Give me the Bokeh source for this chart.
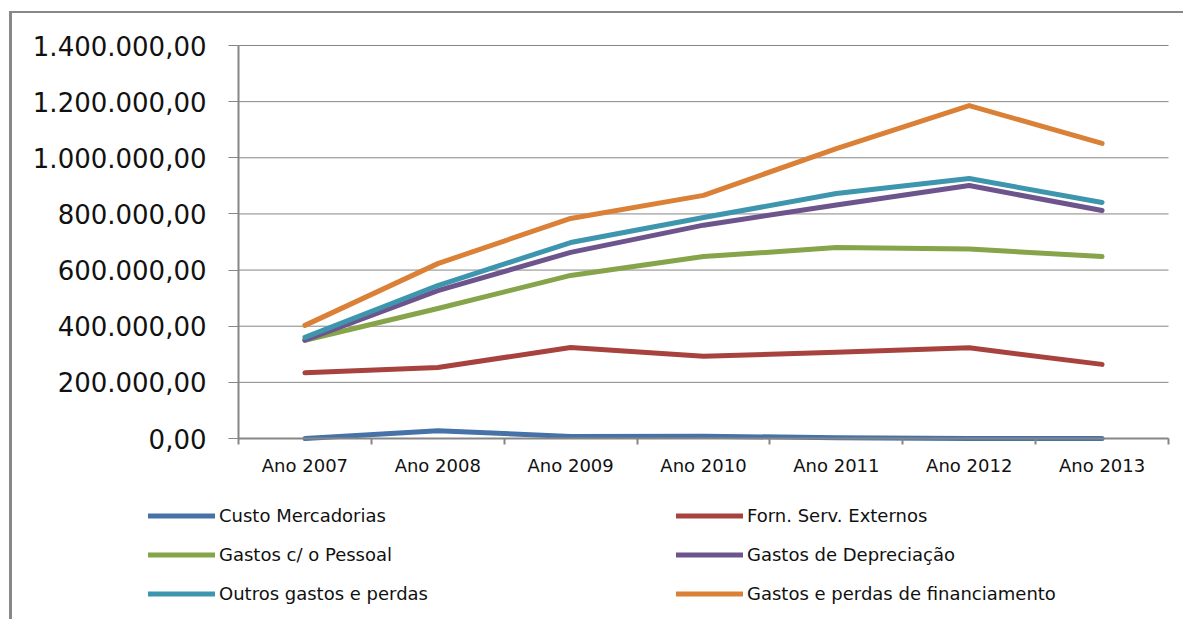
import numpy as np
from bokeh.plotting import figure
from bokeh.models import Range1d, FixedTicker, CustomJSTickFormatter, Legend, LegendItem
from bokeh.embed import file_html
from bokeh.resources import INLINE

years = ["Ano 2007", "Ano 2008", "Ano 2009", "Ano 2010", "Ano 2011", "Ano 2012", "Ano 2013"]
custo_mercadorias = [0, 28000, 7000, 8000, 3000, 0, 0]
forn_serv_externos = [234000, 253000, 324000, 293000, 307000, 323000, 264000]
gastos_pessoal = [350000, 463000, 581000, 648000, 680000, 675000, 648000]
gastos_depreciacao = [350000, 527000, 663000, 760000, 832000, 901000, 812000]
outros_gastos = [360000, 545000, 698000, 787000, 873000, 926000, 841000]
gastos_financiamento = [403000, 623000, 784000, 866000, 1033000, 1186000, 1051000]

series_names = ["Custo Mercadorias", "Forn. Serv. Externos", "Gastos c/ o Pessoal",
                "Gastos de Depreciação", "Outros gastos e perdas",
                "Gastos e perdas de financiamento"]
series_values = [custo_mercadorias, forn_serv_externos, gastos_pessoal,
                 gastos_depreciacao, outros_gastos, gastos_financiamento]
colors = ["#4672A8", "#A8423F", "#86A44A", "#6E548D", "#3D96AE", "#DA8137"]
y_ticks = [0, 200000, 400000, 600000, 800000, 1000000, 1200000, 1400000]

GRID = "#868686"

# canvas geometry (pixels) -> ranges so that the frame covers the whole canvas
FW, FH = 1174, 608
X0_PX, X1_PX = 226, 1156      # category band edges
Y0_PX, Y1_PX = 425, 32        # value 0 and top tick
n = len(years)
kx = (X1_PX - X0_PX) / n
ymax = y_ticks[-1]
ky = (Y0_PX - Y1_PX) / ymax
x_range = Range1d(-X0_PX / kx, n + (FW - X1_PX) / kx)
y_range = Range1d(-(FH - Y0_PX) / ky, ymax + Y1_PX / ky)

p = figure(width=FW, height=FH, output_backend="svg", toolbar_location=None,
           x_range=x_range, y_range=y_range,
           min_border_left=0, min_border_right=0, min_border_top=0, min_border_bottom=0,
           styles={"border-top": "2px solid #888888", "border-left": "3px solid #888888",
                   "margin-top": "11px", "margin-left": "9px"})
p.outline_line_color = None
p.xgrid.grid_line_color = None
p.ygrid.grid_line_color = None

# horizontal gridlines across the category span
p.segment(x0=[0] * len(y_ticks), x1=[n] * len(y_ticks), y0=y_ticks, y1=y_ticks,
          line_color=GRID, line_width=1)

xs = np.arange(n) + 0.5
renderers = []
for vals, col in zip(series_values, colors):
    r = p.line(xs, vals, line_color=col, line_width=5, line_join="round", line_cap="round")
    renderers.append(r)

# y axis, fixed at the left edge of the category span
p.yaxis.fixed_location = 0
p.yaxis.bounds = (0, ymax)
p.yaxis.ticker = FixedTicker(ticks=y_ticks, minor_ticks=[])
p.yaxis.formatter = CustomJSTickFormatter(code="""
    return tick.toFixed(2).replace('.', ',').replace(/\\B(?=(\\d{3})+(?!\\d))/g, '.');
""")
p.yaxis.axis_line_color = GRID
p.yaxis.axis_line_width = 2
p.yaxis.major_tick_line_color = GRID
p.yaxis.major_tick_out = 10
p.yaxis.major_tick_in = 0
p.yaxis.minor_tick_line_color = None
p.yaxis.major_label_text_font = "DejaVu Sans"
p.yaxis.major_label_text_font_size = "26px"
p.yaxis.major_label_text_color = "#111111"
p.yaxis.major_label_standoff = 22

# x axis, fixed at value 0
p.xaxis.fixed_location = 0
p.xaxis.bounds = (0, n)
p.xaxis.ticker = FixedTicker(ticks=list(xs), minor_ticks=list(range(n + 1)))
p.xaxis.major_label_overrides = {float(x): y for x, y in zip(xs, years)}
p.xaxis.axis_line_color = GRID
p.xaxis.axis_line_width = 2
p.xaxis.major_tick_line_color = None
p.xaxis.minor_tick_line_color = GRID
p.xaxis.minor_tick_line_width = 2
p.xaxis.minor_tick_out = 6
p.xaxis.minor_tick_in = 0
p.xaxis.major_label_text_font = "DejaVu Sans"
p.xaxis.major_label_text_font_size = "18px"
p.xaxis.major_label_text_color = "#111111"
p.xaxis.major_label_standoff = 10

# legend: two columns, three rows, below the plot area
items = [LegendItem(label=nm, renderers=[r]) for nm, r in zip(series_names, renderers)]
legend = Legend(items=items, location=(136, 17), orientation="horizontal", ncols=2,
                glyph_width=67, glyph_height=21, label_height=21,
                label_width=439, label_standoff=4, spacing=18, padding=0, margin=0,
                label_text_font="DejaVu Sans", label_text_font_size="18px",
                label_text_color="#111111",
                border_line_color=None, background_fill_alpha=0)
p.add_layout(legend, "center")

open("out.html", "w").write(file_html(p, INLINE))
